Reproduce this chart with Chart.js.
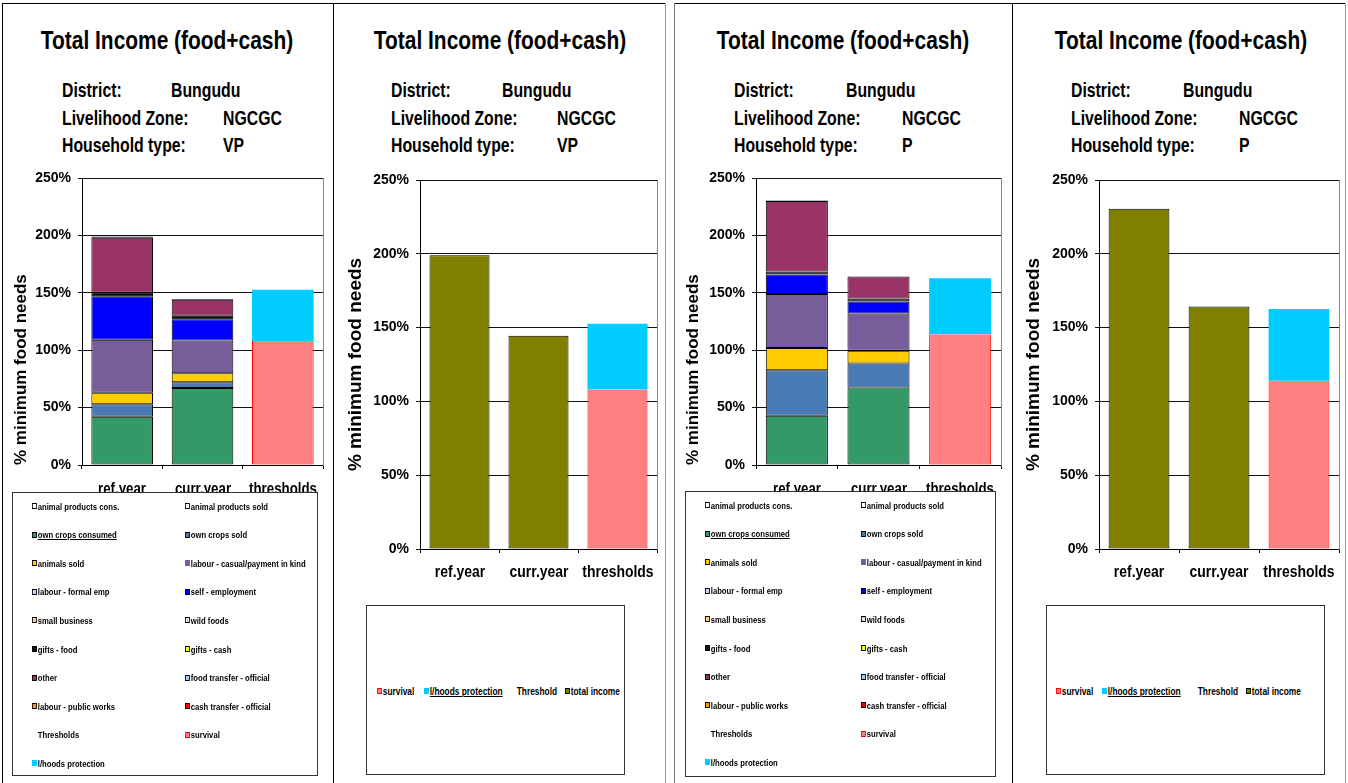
<!DOCTYPE html>
<html>
<head>
<meta charset="utf-8">
<title>Total Income (food+cash)</title>
<script src="https://cdn.jsdelivr.net/npm/chart.js@4.4.1/dist/chart.umd.min.js"></script>
<style>
  html, body { margin: 0; padding: 0; background: #fff; }
  #stage { position: relative; width: 1348px; height: 783px; overflow: hidden; background: #fff; }
  .rule { position: absolute; }
  .txt { position: absolute; white-space: nowrap; font-weight: bold; color: #000;
         font-family: 'Liberation Sans', Arial, sans-serif; transform-origin: 0 50%; }
  .lgbox { position: absolute; background: #fff; border: 1px solid #333; box-sizing: border-box; z-index: 2; }
  .lgitem { position: absolute; display: flex; align-items: center; white-space: nowrap; font-weight: bold; color: #000;
            font-family: 'Liberation Sans', Arial, sans-serif; transform-origin: 0 50%; }
  .sw { display: inline-block; box-sizing: border-box; width: 5.5px; height: 6px; border: 1px solid #000; margin-right: 1.5px; flex: none; }
  canvas { position: absolute; }
</style>
</head>
<body>
<div id="stage"></div>
<script>
// ---- data ----
const categories = ['ref.year', 'curr.year', 'thresholds'];
const yTickLabels = ['0%', '50%', '100%', '150%', '200%', '250%'];
const yAxisTitle = '% minimum food needs';
const chartTitle = 'Total Income (food+cash)';
const district = 'Bungudu';
const livelihoodZone = 'NGCGC';
const householdTypes = ['VP', 'P'];

const incomeSources = [
  'animal products cons.', 'animal products sold', 'own crops consumed', 'own crops sold',
  'animals sold', 'labour - casual/payment in kind', 'labour - formal emp', 'self - employment',
  'small business', 'wild foods', 'gifts - food', 'gifts - cash', 'other',
  'food transfer - official', 'labour - public works', 'cash transfer - official'
];

// % of minimum food needs, one value per income source (same order as incomeSources)
const vpRefYear  = [0, 0, 42,   11,   10,   46,   0, 38,   0, 0, 3,   0, 48,   0, 1,   0];
const vpCurrYear = [0, 0, 67,    5,    8,   28.5, 0, 18.5, 0, 0, 3,   0, 14,   0, 0.5, 0];
const pRefYear   = [0, 0, 43,   39.5, 19.5, 47,   0, 17,   0, 0, 2.5, 0, 61.5, 0, 0.5, 0];
const pCurrYear  = [0, 0, 67.5, 21,   11,   32.5, 0, 10.5, 0, 0, 2.5, 0, 19.3, 0, 0,   0];

// total income per year (ref.year, curr.year)
const vpTotalIncome = [199, 144.5];
const pTotalIncome  = [230.5, 164.3];

// thresholds: survival line and the extra needed for livelihoods protection
const vpSurvival = 108;
const vpLivelihoodProtection = 44.6;
const pSurvival = 114;
const pLivelihoodProtection = 48.6;

// ---- styles ----
const incomeColours = ['#FFFFFF', '#FFFFFF', '#339966', '#4A7AB4', '#FFCC00', '#775D99', '#CCCCFF', '#0000FF',
                       '#FFCC99', '#E0E0E0', '#111111', '#FFFF00', '#993366', '#99CCFF', '#FF9900', '#FF0000'];
const SURVIVAL_FILL = '#FF8080', SURVIVAL_EDGE = '#FF0000';
const PROTECTION_FILL = '#00CCFF';
const TOTAL_FILL = '#808000';
const PLAIN = "'Liberation Sans', Arial, sans-serif";
const NARROW = 0.82;   // horizontal squeeze for the narrow captions

const stage = document.getElementById('stage');

function rule(x, y, w, h, colour) {
  const d = document.createElement('div');
  d.className = 'rule';
  Object.assign(d.style, { left: x + 'px', top: y + 'px', width: w + 'px', height: h + 'px', background: colour });
  stage.appendChild(d);
}

function text(str, x, baseline, size, centred) {
  const d = document.createElement('div');
  d.className = 'txt';
  d.textContent = str;
  d.style.fontSize = size + 'px';
  d.style.lineHeight = size + 'px';
  d.style.top = (baseline - 0.8465 * size) + 'px';
  d.style.left = x + 'px';
  if (centred) {
    d.style.transformOrigin = '50% 50%';
    d.style.transform = 'translateX(-50%) scaleX(' + NARROW + ')';
  } else {
    d.style.transform = 'scaleX(' + NARROW + ')';
  }
  stage.appendChild(d);
  return d;
}

// sheet frames
rule(2, 3, 663, 1, '#000');
rule(2, 3, 1, 780, '#000');
rule(333, 3, 1, 780, '#000');
rule(665, 3, 1, 780, '#999');
rule(674, 3, 672, 1, '#000');
rule(674, 3, 1, 780, '#777');
rule(1012, 3, 1, 780, '#000');
rule(1345, 3, 1, 780, '#999');

function header(h, household) {
  const s = 19.3;
  text(chartTitle, h.titleX, 49.3, 25.5, true);
  text('District:', h.labelX, 97.5, s);
  text(district, h.districtX, 97.5, s);
  text('Livelihood Zone:', h.labelX, 125, s);
  text(livelihoodZone, h.valueX, 125, s);
  text('Household type:', h.labelX, 152, s);
  text(household, h.valueX, 152, s);
}

function legendBox(box, entries, fontSize) {
  const b = document.createElement('div');
  b.className = 'lgbox';
  Object.assign(b.style, { left: box.x + 'px', top: box.y + 'px', width: box.w + 'px', height: box.h + 'px' });
  entries.forEach(e => {
    const it = document.createElement('div');
    it.className = 'lgitem';
    it.style.fontSize = fontSize + 'px';
    it.style.height = '12px';
    it.style.left = e.x + 'px';
    it.style.top = (e.y - 6) + 'px';
    it.style.transform = 'scaleX(' + NARROW + ')';
    const sw = document.createElement('span');
    sw.className = 'sw';
    if (e.swatch) {
      sw.style.background = e.swatch.fill;
      sw.style.borderColor = e.swatch.edge || 'transparent';
    } else {
      sw.style.visibility = 'hidden';
    }
    const t = document.createElement('span');
    t.textContent = e.label;
    if (e.underline) t.style.textDecoration = 'underline';
    it.appendChild(sw);
    it.appendChild(t);
    b.appendChild(it);
  });
  stage.appendChild(b);
}

function makeCanvas(c) {
  const cv = document.createElement('canvas');
  cv.width = c.w; cv.height = c.h;
  Object.assign(cv.style, { left: c.x + 'px', top: c.y + 'px', width: c.w + 'px', height: c.h + 'px' });
  stage.appendChild(cv);
  return cv;
}

function makeChart(box, datasets, lay) {
  const cv = makeCanvas(box);
  const chart = new Chart(cv, {
    type: 'bar',
    data: { labels: categories, datasets },
    options: {
      responsive: false,
      animation: false,
      devicePixelRatio: 1,
      layout: { padding: { top: lay.padTop, right: lay.padRight, left: 0, bottom: 0 } },
      plugins: { legend: { display: false }, tooltip: { enabled: false } },
      datasets: { bar: { categoryPercentage: 1, barPercentage: lay.barPct } },
      scales: {
        x: {
          stacked: true,
          offset: true,
          grid: { display: true, offset: true, drawOnChartArea: false, drawTicks: true, tickLength: 4, color: '#000' },
          border: { display: true, color: '#000', width: 1 },
          ticks: { display: false },
          afterFit: s => { s.height = lay.xHeight; }
        },
        y: {
          stacked: true,
          min: 0, max: 250,
          ticks: { stepSize: 50, callback: (v, i) => yTickLabels[i], color: '#000',
                   font: { family: PLAIN, size: 14, weight: 'bold' }, padding: 7 },
          grid: { color: '#111', tickLength: 4 },
          border: { display: true, color: '#000', width: 1 },
          title: { display: true, text: yAxisTitle, align: lay.titleAlign, color: '#000',
                   font: { family: PLAIN, size: lay.titleFont, weight: 'bold' },
                   padding: { top: lay.titlePad, bottom: 0 } },
          afterFit: s => { s.width = lay.yWidth; }
        },
        yEdge: {
          position: 'right',
          min: 0, max: 250,
          ticks: { display: false },
          grid: { drawOnChartArea: false, drawTicks: false },
          border: { display: true, color: '#888', width: 1 },
          afterFit: s => { s.width = 0; }
        }
      }
    }
  });
  // category captions in the narrow face, centred on the library's tick positions
  const sx = chart.scales.x;
  categories.forEach((c, i) => text(c, box.x + sx.getPixelForTick(i), box.y + sx.top + lay.xBaseline, lay.xFont, true));
  return chart;
}

function detailDatasets(ref, curr, survival, protection) {
  const ds = incomeSources.map((name, k) => ({
    label: name,
    data: [ref[k], curr[k], null],
    backgroundColor: incomeColours[k],
    borderColor: '#000',
    borderWidth: 1,
    borderSkipped: false
  }));
  ds.push({ label: 'survival', data: [null, null, survival], backgroundColor: SURVIVAL_FILL,
            borderColor: SURVIVAL_EDGE, borderWidth: { left: 1, right: 1, bottom: 1, top: 0 }, borderSkipped: false });
  ds.push({ label: 'l/hoods protection', data: [null, null, protection], backgroundColor: PROTECTION_FILL,
            borderWidth: 0 });
  return ds;
}

function totalDatasets(total, survival, protection) {
  return [
    { label: 'total income', data: [total[0], total[1], null], backgroundColor: TOTAL_FILL,
      borderColor: '#000', borderWidth: 1, borderSkipped: false },
    { label: 'survival', data: [null, null, survival], backgroundColor: SURVIVAL_FILL,
      borderColor: SURVIVAL_EDGE, borderWidth: { left: 1, right: 1, bottom: 1, top: 0 }, borderSkipped: false },
    { label: 'l/hoods protection', data: [null, null, protection], backgroundColor: PROTECTION_FILL, borderWidth: 0 }
  ];
}

function detailLegendEntries(colX) {
  const names = incomeSources.map((n, k) => ({
    label: n,
    swatch: { fill: incomeColours[k], edge: (n.startsWith('labour - casual') ? null : '#000') },
    underline: n === 'own crops consumed'
  }));
  names.push({ label: 'Thresholds', swatch: null });
  names.push({ label: 'survival', swatch: { fill: SURVIVAL_FILL, edge: SURVIVAL_EDGE } });
  names.push({ label: 'l/hoods protection', swatch: { fill: PROTECTION_FILL, edge: null } });
  return names.map((e, i) => Object.assign(e, { x: colX[i % 2], y: 13 + 28.6 * Math.floor(i / 2) }));
}

function totalLegendEntries(xs, y) {
  const list = [
    { label: 'survival', swatch: { fill: SURVIVAL_FILL, edge: SURVIVAL_EDGE } },
    { label: 'l/hoods protection', swatch: { fill: PROTECTION_FILL, edge: null }, underline: true },
    { label: 'Threshold', swatch: null },
    { label: 'total income', swatch: { fill: TOTAL_FILL, edge: '#000' } }
  ];
  return list.map((e, i) => Object.assign(e, { x: xs[i], y }));
}

// ---- panel 1: very poor, income by source ----
header({ titleX: 166.5, labelX: 62, districtX: 171, valueX: 223 }, householdTypes[0]);
makeChart({ x: 3, y: 160, w: 330, h: 340 },
  detailDatasets(vpRefYear, vpCurrYear, vpSurvival, vpLivelihoodProtection),
  { padTop: 18, padRight: 10, yWidth: 79, xHeight: 35, barPct: 0.767, xFont: 16.2, xBaseline: 29,
    titleFont: 17, titlePad: 7.8, titleAlign: 'start' });
legendBox({ x: 12, y: 492, w: 306, h: 284 }, detailLegendEntries([19, 172]), 9.4);

// ---- panel 2: very poor, total income ----
header({ titleX: 500, labelX: 391, districtX: 502, valueX: 557 }, householdTypes[0]);
makeChart({ x: 334, y: 160, w: 330, h: 440 },
  totalDatasets(vpTotalIncome, vpSurvival, vpLivelihoodProtection),
  { padTop: 20, padRight: 7, yWidth: 86, xHeight: 51, barPct: 0.76, xFont: 17, xBaseline: 28,
    titleFont: 19, titlePad: 10.6, titleAlign: 'center' });
legendBox({ x: 366, y: 605, w: 259, h: 170 }, totalLegendEntries([10, 57, 143.5, 198], 85), 10.2);

// ---- panel 3: poor, income by source ----
header({ titleX: 842.5, labelX: 734, districtX: 846, valueX: 902 }, householdTypes[1]);
makeChart({ x: 676, y: 160, w: 334, h: 340 },
  detailDatasets(pRefYear, pCurrYear, pSurvival, pLivelihoodProtection),
  { padTop: 18, padRight: 9, yWidth: 80, xHeight: 35, barPct: 0.76, xFont: 16.2, xBaseline: 29,
    titleFont: 17, titlePad: 6.8, titleAlign: 'start' });
legendBox({ x: 685, y: 491, w: 311, h: 286 }, detailLegendEntries([19, 175]), 9.4);

// ---- panel 4: poor, total income ----
header({ titleX: 1180.5, labelX: 1071, districtX: 1183, valueX: 1239 }, householdTypes[1]);
makeChart({ x: 1013, y: 160, w: 332, h: 440 },
  totalDatasets(pTotalIncome, pSurvival, pLivelihoodProtection),
  { padTop: 20, padRight: 6, yWidth: 86, xHeight: 51, barPct: 0.76, xFont: 17, xBaseline: 28,
    titleFont: 19, titlePad: 9.6, titleAlign: 'center' });
legendBox({ x: 1046, y: 605, w: 279, h: 170 }, totalLegendEntries([9, 55, 144.5, 199], 85), 10.2);
</script>
</body>
</html>
